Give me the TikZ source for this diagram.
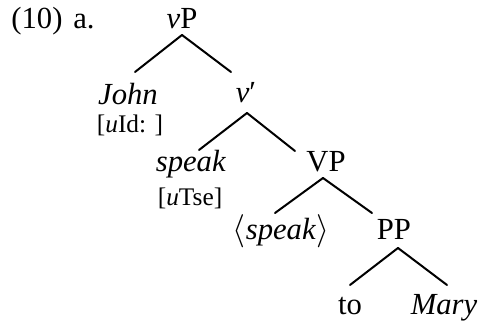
\documentclass[tikz,border=0pt]{standalone}
\usepackage{fontspec}
\setmainfont{Liberation Serif}
\begin{document}
\begin{tikzpicture}[x=0.75pt,y=-0.75pt,
  every node/.style={inner sep=0pt, anchor=base, font=\fontsize{23}{27}\selectfont},
  feat/.style={font=\fontsize{19}{22}\selectfont},
  branch/.style={line width=1.5pt, line cap=round}]
\useasboundingbox (0,0) rectangle (483,327);
% labels
\node (ex) at (37,29) {(10)};
\node (lbl) at (84,29) {a.};
% tree nodes
\node (vP) at (182,29) {\textit{v}P};
\node (John) at (128,105) {\textit{John}};
\node[feat] (uId) at (130,133) {[\textit{u}Id: ]};
\node (vbar) at (246,103) {\textit{v}′};
\node (speak) at (191,172) {\textit{speak}};
\node[feat] (uTse) at (190,206) {[\textit{u}Tse]};
\node (VP) at (326,172) {VP};
\node (tspeak) at (281,240) {$\langle$\textit{speak}$\rangle$};
\node (PP) at (394,240) {PP};
\node (to) at (350,315) {to};
\node (Mary) at (444,315) {\textit{Mary}};
% branches
\draw[branch] ([shift={(0,6)}]vP.base) -- ([shift={(7,-33)}]John.base);
\draw[branch] ([shift={(0,6)}]vP.base) -- ([shift={(-15,-31)}]vbar.base);
\draw[branch] ([shift={(1,10)}]vbar.base) -- ([shift={(8,-22)}]speak.base);
\draw[branch] ([shift={(1,10)}]vbar.base) -- ([shift={(-31,-21)}]VP.base);
\draw[branch] ([shift={(-3,6)}]VP.base) -- ([shift={(-6,-27)}]tspeak.base);
\draw[branch] ([shift={(-3,6)}]VP.base) -- ([shift={(-22,-27)}]PP.base);
\draw[branch] ([shift={(4,8)}]PP.base) -- ([shift={(0,-30)}]to.base);
\draw[branch] ([shift={(4,8)}]PP.base) -- ([shift={(3,-30)}]Mary.base);
\end{tikzpicture}
\end{document}
